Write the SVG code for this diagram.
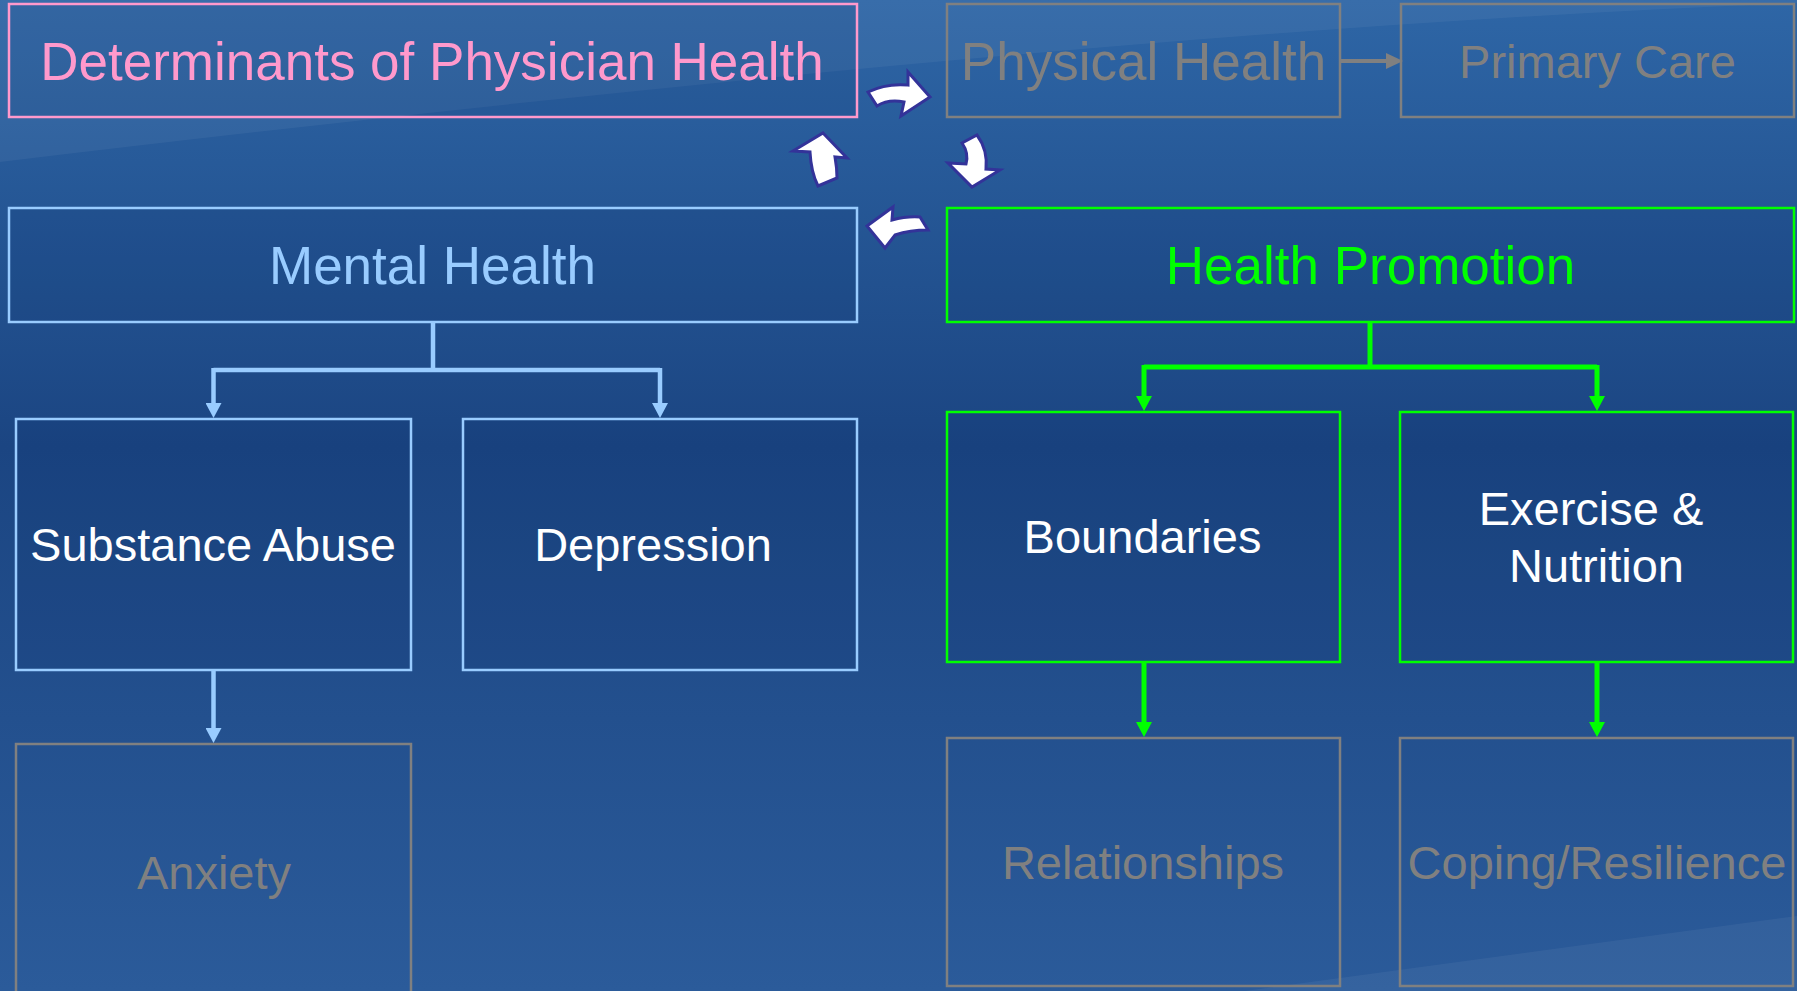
<svg xmlns="http://www.w3.org/2000/svg" width="1797" height="991" viewBox="0 0 1797 991">
  <defs>
    <linearGradient id="bg" x1="0" y1="0" x2="0" y2="1">
      <stop offset="0" stop-color="#2E66A6"/>
      <stop offset="0.45" stop-color="#1B4582"/>
      <stop offset="1" stop-color="#2B5B9A"/>
    </linearGradient>
    <marker id="ahBlue" viewBox="0 0 15 16" refX="5" refY="8" markerWidth="15" markerHeight="16" markerUnits="userSpaceOnUse" orient="auto">
      <path d="M0,0 L15,8 L0,16 Z" fill="#99CCFF"/>
    </marker>
    <marker id="ahGreen" viewBox="0 0 15 16" refX="5" refY="8" markerWidth="15" markerHeight="16" markerUnits="userSpaceOnUse" orient="auto">
      <path d="M0,0 L15,8 L0,16 Z" fill="#00FF00"/>
    </marker>
    <marker id="ahGray" viewBox="0 0 17 16" refX="7" refY="8" markerWidth="17" markerHeight="16" markerUnits="userSpaceOnUse" orient="auto">
      <path d="M0,0 L17,8 L0,16 Z" fill="#808080"/>
    </marker>
  </defs>
  <style>
    text { font-family: "Liberation Sans", Arial, sans-serif; text-anchor: middle; }
    .big { font-size: 53px; }
    .small { font-size: 47px; }
    .box { stroke-width: 2.5; }
    .pink { stroke: #FF99CC; fill: #0A2A66; fill-opacity: 0.1; }
    .blue { stroke: #99CCFF; fill: #0A2A66; fill-opacity: 0.12; }
    .green { stroke: #00FF00; fill: #0A2A66; fill-opacity: 0.12; }
    .gray { stroke: #808080; fill: none; }
    .tPink { fill: #FF99CC; }
    .tBlue { fill: #99CCFF; }
    .tGreen { fill: #00FF00; }
    .tWhite { fill: #FFFFFF; }
    .tGray { fill: #808080; }
    .cyc { fill: #FFFFFF; stroke: #333399; stroke-width: 3; stroke-linejoin: miter; }
  </style>

  <rect x="0" y="0" width="1797" height="991" fill="url(#bg)"/>
  <path d="M0,0 L1797,0 L1797,3 Q1100,30 0,162 Z" fill="#FFFFFF" fill-opacity="0.05"/>
  <path d="M1245,991 L1797,916 L1797,991 Z" fill="#FFFFFF" fill-opacity="0.05"/>

  <g id="determinants">
    <rect class="box pink" x="9" y="4" width="848" height="113"/>
    <text class="big tPink" x="432" y="80">Determinants of Physician Health</text>
  </g>
  <g id="physical-health">
    <rect class="box gray" x="947" y="4" width="393" height="113"/>
    <text class="big tGray" x="1143.5" y="80">Physical Health</text>
  </g>
  <g id="primary-care">
    <rect class="box gray" x="1401" y="4" width="393" height="113"/>
    <text class="small tGray" x="1597.5" y="78">Primary Care</text>
  </g>
  <g id="mental-health">
    <rect class="box blue" x="9" y="208" width="848" height="114"/>
    <text class="big tBlue" x="432.5" y="284">Mental Health</text>
  </g>
  <g id="health-promotion">
    <rect class="box green" x="947" y="208" width="847" height="114"/>
    <text class="big tGreen" x="1370.5" y="284">Health Promotion</text>
  </g>
  <g id="substance-abuse">
    <rect class="box blue" x="16" y="419" width="395" height="251"/>
    <text class="small tWhite" x="213" y="561">Substance Abuse</text>
  </g>
  <g id="depression">
    <rect class="box blue" x="463" y="419" width="394" height="251"/>
    <text class="small tWhite" x="653" y="561">Depression</text>
  </g>
  <g id="anxiety">
    <rect class="box gray" x="16" y="744" width="395" height="252"/>
    <text class="small tGray" x="214" y="889">Anxiety</text>
  </g>
  <g id="boundaries">
    <rect class="box green" x="947" y="412" width="393" height="250"/>
    <text class="small tWhite" x="1142.5" y="553">Boundaries</text>
  </g>
  <g id="exercise-nutrition">
    <rect class="box green" x="1400" y="412" width="393" height="250"/>
    <text class="small tWhite" x="1591" y="525">Exercise &amp;</text>
    <text class="small tWhite" x="1596.5" y="582">Nutrition</text>
  </g>
  <g id="relationships">
    <rect class="box gray" x="947" y="738" width="393" height="248"/>
    <text class="small tGray" x="1143" y="879">Relationships</text>
  </g>
  <g id="coping-resilience">
    <rect class="box gray" x="1400" y="738" width="393" height="248"/>
    <text class="small tGray" x="1597" y="879">Coping/Resilience</text>
  </g>

  <g id="connectors" fill="none">
    <path d="M1341,61 L1393,61" stroke="#808080" stroke-width="4" marker-end="url(#ahGray)"/>
    <path d="M433,322 L433,370" stroke="#99CCFF" stroke-width="4.5"/>
    <path d="M213.5,370 L660,370" stroke="#99CCFF" stroke-width="4.5"/>
    <path d="M213.5,368 L213.5,408" stroke="#99CCFF" stroke-width="4.5" marker-end="url(#ahBlue)"/>
    <path d="M660,368 L660,408" stroke="#99CCFF" stroke-width="4.5" marker-end="url(#ahBlue)"/>
    <path d="M213.5,670 L213.5,733" stroke="#99CCFF" stroke-width="4.5" marker-end="url(#ahBlue)"/>
    <path d="M1370,322 L1370,367" stroke="#00FF00" stroke-width="5"/>
    <path d="M1144,367 L1597,367" stroke="#00FF00" stroke-width="5"/>
    <path d="M1144,365 L1144,401" stroke="#00FF00" stroke-width="5" marker-end="url(#ahGreen)"/>
    <path d="M1597,365 L1597,401" stroke="#00FF00" stroke-width="5" marker-end="url(#ahGreen)"/>
    <path d="M1144,662 L1144,727" stroke="#00FF00" stroke-width="5" marker-end="url(#ahGreen)"/>
    <path d="M1597,662 L1597,727" stroke="#00FF00" stroke-width="5" marker-end="url(#ahGreen)"/>
    <path class="cyc" d="M868,92 Q886,83 908,85 L908,72 L930,97 L901,116 L904,102 Q888,99 877,106 Z"/>
    <path class="cyc" d="M962,143 L977,135 Q988,150 986,169 L1000,170 L972,187 L948,163 L966,164 Q969,153 962,143 Z"/>
    <path class="cyc" d="M867,226 L893,207 L892,220 Q907,216 920,217 L928,230 Q910,230 895,235 L885,248 Z"/>
    <path class="cyc" d="M823,133 L847,158 L835,157 Q837,168 837,178 L818,186 Q811,172 810,152 L793,151 Z"/>
  </g>
</svg>
